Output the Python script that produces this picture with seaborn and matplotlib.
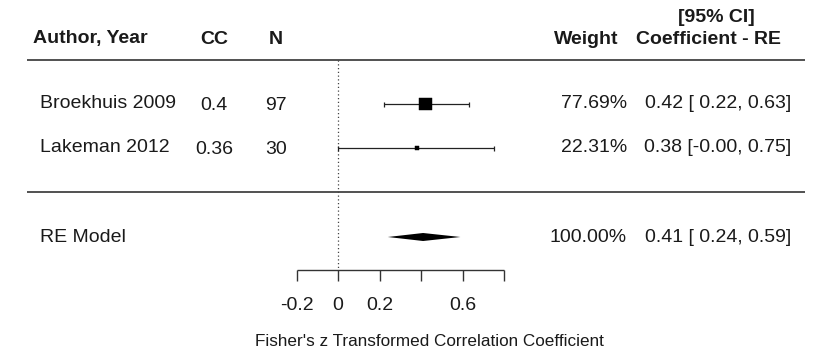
"""
Forest plot: Fisher's z transformed correlation, random-effects model
"""
import numpy as np
import pandas as pd
import matplotlib.pyplot as plt
import seaborn as sns

# Data
studies = ["Broekhuis 2009", "Lakeman 2012"]
cc = ["0.4", "0.36"]
n = ["97", "30"]
estimate = [0.42, 0.38]
ci_low = [0.22, -0.00]
ci_high = [0.63, 0.75]
weight = [77.69, 22.31]

re_estimate = 0.41
re_low = 0.24
re_high = 0.59
re_weight = 100.00

x_ticks = [-0.2, 0, 0.2, 0.4, 0.6, 0.8]
x_tick_labels = ["-0.2", "0", "0.2", "", "0.6", ""]

# Layout (figure pixels, 831 x 364)
W, H = 831, 364
X0_PX = 338.0      # pixel of effect = 0
PX_PER_UNIT = 207.5
ROW_Y = [104, 148]
RE_Y = 237
AXIS_Y = 270


def px(xpix):
    return (xpix - X0_PX) / PX_PER_UNIT


sns.set_theme(style="white")
plt.rcParams['font.family'] = ['Liberation Sans', 'DejaVu Sans']

fig = plt.figure(figsize=(W / 100, H / 100), dpi=100)
ax = fig.add_axes([0, 0, 1, 1])
ax.set_xlim(px(0), px(W))
ax.set_ylim(H, 0)
ax.axis("off")

txt = dict(fontsize=14, color="#1a1a1a", va="center")
bold = dict(txt, fontweight="bold")

# header
ax.text(px(33), 39, "Author, Year", ha="left", **bold)
ax.text(px(214), 40, "CC", ha="center", **bold)
ax.text(px(276), 40, "N", ha="center", **bold)
ax.text(px(618), 39, "Weight", ha="right", **bold)
ax.text(px(716), 18, "[95% CI]", ha="center", **bold)
ax.text(px(709), 39, "Coefficient - RE", ha="center", **bold)

# separator lines
ax.hlines([60, 192], px(27), px(805), color="#333333", lw=1.2)

# null line
ax.vlines(0, 60, AXIS_Y, color="#444444", lw=0.9, linestyles=(0, (1, 2)))

# study rows
df = pd.DataFrame({"study": studies, "est": estimate, "lo": ci_low,
                   "hi": ci_high, "w": weight, "y": ROW_Y})
ax.hlines(df["y"], df["lo"], df["hi"], color="#222222", lw=0.9)
ax.vlines(df["lo"], df["y"] - 2.5, df["y"] + 2.5, color="#222222", lw=0.9)
ax.vlines(df["hi"], df["y"] - 2.5, df["y"] + 2.5, color="#222222", lw=0.9)
sns.scatterplot(data=df, x="est", y="y", size="study", marker="s",
                sizes={studies[0]: 85, studies[1]: 9}, color="black",
                edgecolor="black", legend=False, ax=ax, zorder=3)

for i, row in df.iterrows():
    ax.text(px(40), row["y"], row["study"], ha="left", **txt)
    ax.text(px(214), row["y"] + 2, cc[i], ha="center", **txt)
    ax.text(px(276), row["y"] + 1, n[i], ha="center", **txt)
    ax.text(px(627), row["y"], f"{row['w']:.2f}%", ha="right", **txt)
    ax.text(px(791), row["y"],
            f"{row['est']:.2f} [{row['lo']:5.2f}, {row['hi']:.2f}]",
            ha="right", **txt)

# RE model diamond
dx = [re_low, re_estimate, re_high, re_estimate]
dy = [RE_Y, RE_Y - 4, RE_Y, RE_Y + 4]
ax.fill(dx, dy, color="black", lw=0)
ax.text(px(40), RE_Y, "RE Model", ha="left", **txt)
ax.text(px(627), RE_Y, f"{re_weight:.2f}%", ha="right", **txt)
ax.text(px(791), RE_Y, f"{re_estimate:.2f} [{re_low:5.2f}, {re_high:.2f}]",
        ha="right", **txt)

# x axis
ax.hlines(AXIS_Y, x_ticks[0], x_ticks[-1], color="#333333", lw=1.0)
ax.vlines(x_ticks, AXIS_Y, AXIS_Y + 11, color="#333333", lw=1.0)
for t, lab in zip(x_ticks, x_tick_labels):
    ax.text(t, 306, lab, ha="center", **txt)
ax.text(px(429), 341, "Fisher's z Transformed Correlation Coefficient",
        ha="center", **dict(txt, fontsize=12.3))

fig.savefig("out.png", dpi=100)
